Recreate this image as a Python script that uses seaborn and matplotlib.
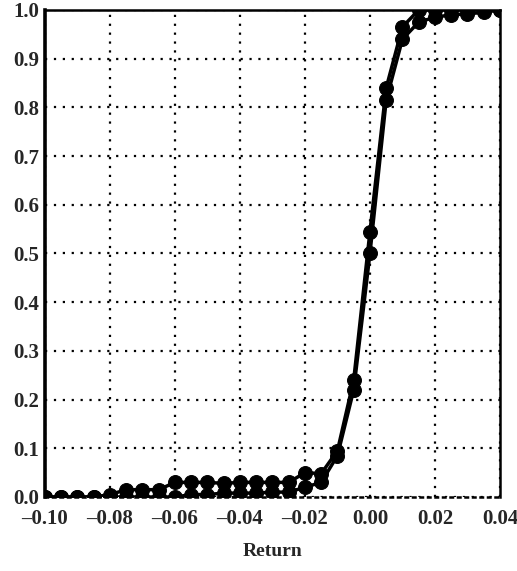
import numpy as np
import pandas as pd
import matplotlib
matplotlib.use("Agg")
import matplotlib.pyplot as plt
import seaborn as sns

# return grid, step 0.005 from -0.10 to 0.04
returns = [
    -0.100, -0.095, -0.090, -0.085, -0.080, -0.075, -0.070, -0.065, -0.060, -0.055,
    -0.050, -0.045, -0.040, -0.035, -0.030, -0.025, -0.020, -0.015, -0.010, -0.005,
    0.000, 0.005, 0.010, 0.015, 0.020, 0.025, 0.030, 0.035, 0.040,
]

cdf_a = [
    0.000, 0.000, 0.000, 0.000, 0.005, 0.015, 0.015, 0.015, 0.030, 0.030,
    0.030, 0.028, 0.030, 0.030, 0.030, 0.030, 0.050, 0.048, 0.095, 0.240,
    0.545, 0.840, 0.965, 1.000, 1.000, 1.000, 1.000, 1.000, 1.000,
]

cdf_b = [
    0.000, 0.000, 0.000, 0.000, 0.000, 0.000, 0.000, 0.000, 0.000, 0.005,
    0.005, 0.008, 0.008, 0.008, 0.010, 0.010, 0.020, 0.030, 0.085, 0.220,
    0.500, 0.815, 0.940, 0.975, 0.985, 0.990, 0.992, 0.995, 1.000,
]

df = pd.concat([
    pd.DataFrame({"Return": returns, "cdf": cdf_a, "series": "a"}),
    pd.DataFrame({"Return": returns, "cdf": cdf_b, "series": "b"}),
])

sns.set_style("white")
plt.rcParams["font.family"] = ["Liberation Serif", "DejaVu Serif"]
plt.rcParams["font.weight"] = "bold"

fig = plt.figure(figsize=(5.17, 5.71), dpi=100)
ax = fig.add_axes([0.087, 0.1296, 0.88, 0.853])

sns.lineplot(
    data=df,
    x="Return",
    y="cdf",
    hue="series",
    palette=["black", "black"],
    marker="o",
    markersize=10,
    markeredgecolor="black",
    linewidth=2.5,
    legend=False,
    ax=ax,
    zorder=3,
)

xt = np.arange(-0.10, 0.041, 0.02)
yt = np.arange(0.0, 1.01, 0.1)
ax.set_xlim(-0.10, 0.04)
ax.set_ylim(0.0, 1.0)
ax.set_xticks(xt)
ax.set_yticks(yt)
ax.set_xticklabels([f"{v:.2f}".replace("-", "\u2013") for v in xt])
ax.set_yticklabels([f"{v:.1f}" for v in yt])
ax.set_yticks(np.arange(0.0, 1.01, 0.02), minor=True)

ax.grid(True, which="major", color="black", linestyle=(0, (1, 3)), linewidth=1.6)
ax.tick_params(axis="both", which="major", labelsize=15, length=4, width=1.5,
               direction="inout", color="black")
ax.tick_params(axis="y", which="major", pad=2)
ax.tick_params(axis="x", which="major", length=0, pad=9)
ax.tick_params(axis="y", which="minor", length=3, width=1.2, direction="inout", color="black")

for name, sp in ax.spines.items():
    sp.set_color("black")
    sp.set_linewidth(1.8)
ax.spines["left"].set_linewidth(2.6)
ax.spines["bottom"].set_linestyle((0, (1, 2)))

ax.set_xlabel("Return", fontsize=14, fontweight="bold", labelpad=10)
ax.set_ylabel("")

fig.savefig("out.png", dpi=100)
